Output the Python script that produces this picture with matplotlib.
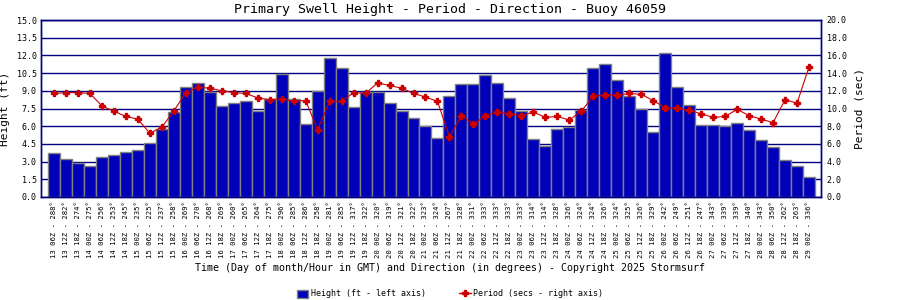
import matplotlib
matplotlib.use("Agg")
import matplotlib.pyplot as plt
from matplotlib.patches import Patch
from matplotlib.lines import Line2D

# data
days = ["13", "13", "13"] + [d for d in range(14, 29) for _ in range(4)] + ["29"]
hours = ["06Z", "12Z", "18Z"] + ["00Z", "06Z", "12Z", "18Z"] * 15 + ["00Z"]
directions = [288, 282, 274, 275, 256, 253, 245, 235, 225, 237, 258, 269, 270, 268, 269, 260,
              265, 264, 275, 296, 285, 286, 258, 281, 285, 317, 322, 320, 319, 321, 322, 323,
              324, 267, 328, 331, 333, 333, 333, 333, 314, 314, 328, 326, 324, 324, 326, 324,
              325, 326, 329, 242, 249, 251, 247, 343, 339, 339, 340, 343, 350, 262, 263, 336]
height_ft = [3.7, 3.2, 2.9, 2.6, 3.4, 3.6, 3.8, 4.0, 4.6, 5.8, 7.2, 9.3, 9.7, 8.9, 7.7, 8.0,
             8.1, 7.3, 8.3, 10.4, 8.3, 6.2, 9.0, 11.8, 10.9, 7.6, 8.9, 8.9, 8.0, 7.3, 6.7, 6.0,
             5.0, 8.6, 9.6, 9.6, 10.3, 9.7, 8.4, 7.3, 4.9, 4.3, 5.8, 5.9, 7.4, 10.9, 11.3, 9.9,
             8.6, 7.5, 5.5, 12.2, 9.3, 7.8, 6.1, 6.1, 6.0, 6.3, 5.7, 4.8, 4.2, 3.1, 2.6, 1.7]
period_s = [11.7, 11.8, 11.8, 11.7, 10.3, 9.7, 9.1, 8.8, 7.2, 7.9, 9.7, 11.8, 12.4, 12.3, 12.0, 11.8,
            11.7, 11.2, 11.0, 11.1, 10.8, 10.9, 7.6, 10.8, 10.8, 11.8, 11.7, 12.9, 12.6, 12.3, 11.7, 11.3,
            10.8, 6.8, 9.2, 8.2, 9.2, 9.6, 9.4, 9.2, 9.6, 9.0, 9.1, 8.7, 9.7, 11.4, 11.5, 11.5,
            11.7, 11.6, 10.9, 10.1, 10.0, 9.8, 9.4, 9.0, 9.1, 9.9, 9.2, 8.8, 8.4, 11.0, 10.6, 14.7]

labels = [f"{d} {h} - {a}\u00b0" for d, h, a in zip(days, hours, directions)]

navy = "#000080"
bar_blue = "#0000BB"
red = "#CC0000"
plt.rcParams["font.family"] = ["DejaVu Sans Mono"]

fig = plt.figure(figsize=(9, 3), dpi=100)
ax = fig.add_axes([41 / 900, 103 / 300, 780 / 900, 177 / 300])
x = list(range(len(height_ft)))

ax.bar(x, height_ft, width=1.0, color=bar_blue, edgecolor="#808080", linewidth=1.0, zorder=2)
ax.set_ylim(0, 15)
ax.set_yticks([i * 1.5 for i in range(11)])
ax.set_yticklabels([f"{i * 1.5:.1f}" for i in range(11)], fontsize=6)
ax.set_xlim(-1.08, 64.0)
ax.set_xticks(x)
ax.set_xticklabels(labels, rotation=90, fontsize=5.2)
ax.tick_params(axis="both", length=0, pad=3)
ax.grid(axis="y", color=navy, linewidth=1.0, zorder=0)
ax.set_axisbelow(True)
ax.set_ylabel("Height (ft)", fontsize=8, labelpad=5)
for s in ax.spines.values():
    s.set_color(navy)
    s.set_linewidth(1.0)

ax2 = ax.twinx()
ax2.plot(x, period_s, color=red, linewidth=0.8, marker="P", markersize=4, zorder=3)
ax2.set_ylim(0, 20)
ax2.set_yticks(range(0, 21, 2))
ax2.set_yticklabels([f"{v:.1f}" for v in range(0, 21, 2)], fontsize=6)
ax2.tick_params(axis="y", length=0, pad=4)
ax2.set_ylabel("Period (sec)", fontsize=8, labelpad=6)
for s in ax2.spines.values():
    s.set_color(navy)
    s.set_linewidth(1.0)

fig.text(0.5, 1 - 9 / 300, "Primary Swell Height - Period - Direction - Buoy 46059",
         ha="center", va="center", fontsize=9.5)
fig.text(0.5, 1 - 268 / 300,
         "Time (Day of month/Hour in GMT) and Direction (in degrees) - Copyright 2025 Stormsurf",
         ha="center", va="center", fontsize=7.2)

handles = [Patch(facecolor=bar_blue, edgecolor="#808080"),
           Line2D([0], [0], color=red, linewidth=1.0, marker="P", markersize=4)]
fig.legend(handles, ["Height (ft - left axis)", "Period (secs - right axis)"],
           loc="center", bbox_to_anchor=(0.5, 1 - 294 / 300), ncol=2, frameon=False,
           fontsize=6, handlelength=1.4, handleheight=1.1, handletextpad=0.3, columnspacing=4)

fig.savefig("out.png", dpi=100)
